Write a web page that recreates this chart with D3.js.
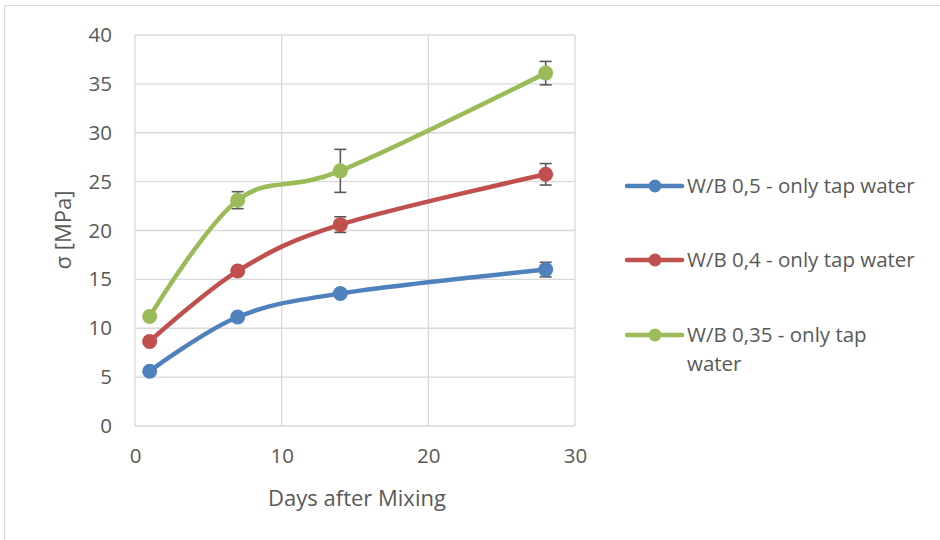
<!DOCTYPE html>
<html>
<head>
<meta charset="utf-8">
<script src="https://cdn.jsdelivr.net/npm/d3@7"></script>
<style>
  html, body { margin: 0; padding: 0; background: #fff; }
  svg { display: block; font-family: "Open Sans", "Noto Sans", sans-serif; }
</style>
</head>
<body>
<svg id="chart" width="940" height="540"></svg>
<script>
// Compressive strength over curing age
const days = [1, 7, 14, 28];
const seriesNames = [
  "W/B 0,5 - only tap water",
  "W/B 0,4 - only tap water",
  "W/B 0,35 - only tap water"
];
const seriesColors = ["#4F81BD", "#C0504D", "#9BBB59"];
const wb05 = [5.6, 11.15, 13.55, 16.0];
const wb04 = [8.65, 15.85, 20.6, 25.75];
const wb035 = [11.2, 23.1, 26.1, 36.1];
// symmetric standard deviation per point (0 = no bar drawn)
const wb05Err = [0, 0, 0, 0.75];
const wb04Err = [0, 0, 0.8, 1.1];
const wb035Err = [0, 0.87, 2.2, 1.2];
const xTicks = [0, 10, 20, 30];
const yTicks = [0, 5, 10, 15, 20, 25, 30, 35, 40];

const series = [
  { name: seriesNames[0], color: seriesColors[0], values: wb05, err: wb05Err },
  { name: seriesNames[1], color: seriesColors[1], values: wb04, err: wb04Err },
  { name: seriesNames[2], color: seriesColors[2], values: wb035, err: wb035Err }
];

const svg = d3.select("#chart");

// outer chart frame
svg.append("rect")
  .attr("x", 4.5).attr("y", 5.5)
  .attr("width", 960).attr("height", 560)
  .attr("fill", "none").attr("stroke", "#d9d9d9").attr("stroke-width", 1);

const plot = { left: 135, right: 575, top: 35, bottom: 426 };

const x = d3.scaleLinear().domain([0, 30]).range([plot.left, plot.right]);
const y = d3.scaleLinear().domain([0, 40]).range([plot.bottom, plot.top]);

// gridlines
const grid = svg.append("g").attr("stroke", "#d9d9d9").attr("stroke-width", 1.3);
grid.selectAll("line.h").data(yTicks).join("line")
  .attr("x1", plot.left).attr("x2", plot.right)
  .attr("y1", d => y(d)).attr("y2", d => y(d));
grid.selectAll("line.v").data(xTicks).join("line")
  .attr("y1", plot.top).attr("y2", plot.bottom)
  .attr("x1", d => x(d)).attr("x2", d => x(d));

// axes (labels only; lines are the grid)
const yAxis = svg.append("g")
  .attr("transform", `translate(${plot.left - 23},0)`)
  .call(d3.axisLeft(y).tickValues(yTicks).tickSize(0).tickPadding(0));
const xAxis = svg.append("g")
  .attr("transform", `translate(0,${plot.bottom})`)
  .call(d3.axisBottom(x).tickValues(xTicks).tickSize(0).tickPadding(22));
[yAxis, xAxis].forEach(a => {
  a.select(".domain").remove();
  a.selectAll("text")
    .attr("fill", "#595959")
    .style("font-size", "20.5px")
    .style("font-family", "'Open Sans', sans-serif");
});

// axis titles
svg.append("text")
  .attr("transform", `translate(71,230) rotate(-90)`)
  .attr("text-anchor", "middle")
  .attr("fill", "#595959")
  .style("font-size", "22px")
  .text("σ [MPa]");
svg.append("text")
  .attr("x", 357)
  .attr("y", 506)
  .attr("text-anchor", "middle")
  .attr("fill", "#595959")
  .style("font-size", "22px")
  .text("Days after Mixing");

// smoothed lines
const line = d3.line()
  .x((d, i) => x(days[i]))
  .y(d => y(d))
  .curve(d3.curveCardinal.tension(0));

const sg = svg.selectAll("g.series").data(series).join("g").attr("class", "series");

sg.append("path")
  .attr("d", d => line(d.values))
  .attr("fill", "none")
  .attr("stroke", d => d.color)
  .attr("stroke-width", 4.5)
  .attr("stroke-linecap", "round")
  .attr("stroke-linejoin", "round");

// error bars
sg.each(function(s) {
  const g = d3.select(this);
  const pts = days.map((dd, i) => ({ day: dd, v: s.values[i], e: s.err[i] })).filter(p => p.e > 0);
  const eb = g.selectAll("g.err").data(pts).join("g").attr("class", "err")
    .attr("stroke", "#595959").attr("stroke-width", 1.6);
  eb.append("line")
    .attr("x1", p => x(p.day)).attr("x2", p => x(p.day))
    .attr("y1", p => y(p.v + p.e)).attr("y2", p => y(p.v - p.e));
  eb.append("line")
    .attr("x1", p => x(p.day) - 6).attr("x2", p => x(p.day) + 6)
    .attr("y1", p => y(p.v + p.e)).attr("y2", p => y(p.v + p.e));
  eb.append("line")
    .attr("x1", p => x(p.day) - 6).attr("x2", p => x(p.day) + 6)
    .attr("y1", p => y(p.v - p.e)).attr("y2", p => y(p.v - p.e));
});

// markers
sg.each(function(s) {
  d3.select(this).selectAll("circle").data(s.values).join("circle")
    .attr("cx", (d, i) => x(days[i]))
    .attr("cy", d => y(d))
    .attr("r", 7.5)
    .attr("fill", s.color);
});

// legend
const legendY = [186, 260, 335];
const lg = svg.selectAll("g.legend").data(series).join("g").attr("class", "legend")
  .attr("transform", (d, i) => `translate(627,${legendY[i]})`);
lg.append("line")
  .attr("x1", 0).attr("x2", 55)
  .attr("stroke", d => d.color).attr("stroke-width", 4.5).attr("stroke-linecap", "round");
lg.append("circle").attr("cx", 28).attr("r", 6.5).attr("fill", d => d.color);
lg.append("text")
  .attr("x", 60).attr("y", 7)
  .attr("fill", "#595959")
  .style("font-size", "20.5px")
  .each(function(d, i) {
    const t = d3.select(this);
    if (i === 2) {
      t.append("tspan").attr("x", 60).text("W/B 0,35 - only tap");
      t.append("tspan").attr("x", 60).attr("dy", 29).text("water");
    } else {
      t.text(d.name);
    }
  });
</script>
</body>
</html>
